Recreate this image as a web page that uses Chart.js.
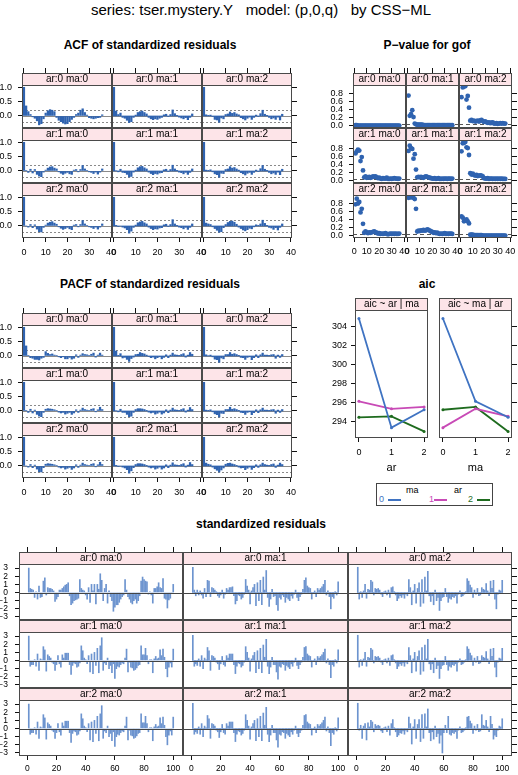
<!DOCTYPE html>
<html>
<head>
<meta charset="utf-8">
<script src="https://cdn.jsdelivr.net/npm/chart.js@4.4.1/dist/chart.umd.min.js"></script>
<style>
  html, body { margin: 0; padding: 0; background: #fff; }
  #page { position: relative; width: 518px; height: 775px; overflow: hidden; font-family: "Liberation Sans", Arial, sans-serif; }
  #page canvas { position: absolute; }
  .ttl { position: absolute; white-space: nowrap; transform: translateX(-50%); color: #000; }
  .sect { font-weight: bold; font-size: 12px; line-height: 14px; }
  .key { position: absolute; left: 376px; top: 483px; width: 115px; height: 21px; border: 1px solid #444; font-size: 9px; }
  .key span { position: absolute; line-height: 10px; }
  .key i { position: absolute; height: 0; border-top: 2px solid; }
</style>
</head>
<body>
<div id="page">
  <div class="ttl" style="left:261px; top:1px; font-size:15px; line-height:17px;">series: tser.mystery.Y&nbsp;&nbsp;&nbsp;model: (p,0,q)&nbsp;&nbsp;&nbsp;by CSS−ML</div>
  <div class="ttl sect" style="left:150px; top:38px;">ACF of standardized residuals</div>
  <div class="ttl sect" style="left:427px; top:38px;">P−value for gof</div>
  <div class="ttl sect" style="left:150px; top:277px;">PACF of standardized residuals</div>
  <div class="ttl sect" style="left:427px; top:277px;">aic</div>
  <div class="ttl sect" style="left:261px; top:517px;">standardized residuals</div>
  <div class="key">
    <span style="left:29px; top:1px;">ma</span>
    <span style="left:77px; top:1px;">ar</span>
    <span style="left:2px; top:10px; color:#3f73c2;">0</span><i style="left:11px; top:15px; width:13px; border-color:#3f73c2;"></i>
    <span style="left:52px; top:10px; color:#c84ab6;">1</span><i style="left:57px; top:15px; width:13px; border-color:#c84ab6;"></i>
    <span style="left:91px; top:10px; color:#1e6b1e;">2</span><i style="left:100px; top:15px; width:13px; border-color:#1e6b1e;"></i>
  </div>
</div>
<script>
// ---------- data ----------
const levels = [0, 1, 2];

const acfXTicks = [0, 10, 20, 30, 40];
const acfYTicks = [0, 0.5, 1];
const ciBound = 0.196;

const acf_ar0ma0 = [1, 0.35, 0.15, 0.05, -0.03, -0.08, -0.17, -0.31, -0.27, -0.10, 0.10, 0.18, 0.22, 0.20, 0.15, -0.05, -0.15, -0.20, -0.25, -0.28, -0.27, -0.20, -0.12, -0.05, 0.05, 0.10, 0.20, 0.25, 0.12, 0.03, -0.06, -0.08, -0.10, -0.08, -0.06, -0.05, 0.04];
const acf_ar0ma1 = [1, 0.17, 0.05, 0.10, -0.05, -0.08, -0.15, -0.23, -0.20, -0.05, 0.03, 0.12, 0.15, 0.17, 0.12, 0.07, -0.05, -0.10, -0.13, -0.10, -0.12, -0.08, -0.05, 0.04, 0.06, -0.02, 0.05, 0.21, 0.08, 0.02, -0.04, -0.07, -0.10, -0.06, -0.13, -0.05, 0.07];
const acf_ar0ma2 = [1, 0.04, 0.02, 0.03, -0.02, -0.12, -0.14, -0.22, -0.07, -0.10, 0.05, 0.07, 0.14, 0.09, 0.12, 0.07, 0.04, -0.06, -0.10, -0.14, -0.08, -0.04, -0.12, -0.05, 0.03, -0.02, 0.08, 0.20, 0.06, 0.02, -0.05, -0.10, -0.07, -0.12, -0.04, -0.14, 0.06];
const acf_ar1ma0 = [1, 0.02, -0.05, 0.06, -0.07, 0.05, -0.12, -0.18, -0.20, -0.04, 0.03, 0.10, 0.14, 0.15, 0.10, 0.07, -0.03, -0.08, -0.12, -0.08, -0.05, -0.10, -0.12, 0.03, 0.05, -0.03, 0.05, 0.19, 0.07, 0.02, -0.03, -0.05, -0.09, -0.04, -0.11, -0.04, 0.07];
const acf_ar1ma1 = [1, 0.01, -0.03, 0.06, -0.05, -0.06, -0.12, -0.21, -0.19, -0.04, 0.03, 0.11, 0.15, 0.16, 0.11, 0.07, -0.04, -0.09, -0.13, -0.09, -0.11, -0.07, -0.06, 0.04, 0.06, -0.02, 0.05, 0.20, 0.07, 0.02, -0.04, -0.06, -0.10, -0.05, -0.12, -0.05, 0.07];
const acf_ar1ma2 = [1, 0.03, 0.02, 0.04, -0.03, -0.10, -0.13, -0.22, -0.08, -0.09, 0.05, 0.07, 0.15, 0.10, 0.12, 0.07, 0.03, -0.06, -0.10, -0.14, -0.08, -0.05, -0.12, -0.05, 0.03, -0.02, 0.08, 0.19, 0.06, 0.02, -0.05, -0.10, -0.07, -0.12, -0.04, -0.13, 0.06];
const acf_ar2ma0 = [1, 0.00, -0.04, 0.05, -0.06, 0.04, -0.11, -0.20, -0.21, -0.05, 0.03, 0.10, 0.13, 0.15, 0.10, 0.06, -0.03, -0.08, -0.12, -0.09, -0.05, -0.10, -0.13, 0.03, 0.05, -0.03, 0.05, 0.19, 0.07, 0.02, -0.03, -0.05, -0.09, -0.04, -0.11, -0.04, 0.07];
const acf_ar2ma1 = [1, 0.02, -0.02, 0.00, -0.04, -0.07, -0.13, -0.25, -0.18, -0.05, 0.03, 0.11, 0.14, 0.16, 0.11, 0.07, -0.04, -0.09, -0.13, -0.10, -0.11, -0.07, -0.06, 0.04, 0.06, -0.02, 0.05, 0.22, 0.07, 0.02, -0.04, -0.06, -0.10, -0.05, -0.12, -0.05, 0.07];
const acf_ar2ma2 = [1, 0.10, 0.07, 0.05, -0.03, -0.09, -0.15, -0.22, -0.20, -0.06, 0.05, 0.12, 0.16, 0.17, 0.13, 0.06, -0.04, -0.09, -0.14, -0.17, -0.13, -0.08, -0.10, -0.03, 0.04, 0.02, 0.07, 0.20, 0.09, 0.02, -0.05, -0.07, -0.12, -0.06, -0.14, -0.05, 0.07];

const pacf_ar0ma0 = [1, 0.35, 0.02, -0.06, -0.08, -0.12, -0.12, -0.14, -0.08, -0.05, 0.15, 0.09, 0.05, 0.07, 0.03, 0.02, -0.03, -0.06, -0.03, -0.10, -0.10, -0.05, -0.11, -0.08, 0.04, -0.05, 0.03, 0.08, 0.05, 0.04, 0.02, 0.06, 0.10, -0.04, 0.03, 0.10, 0.03];
const pacf_ar0ma1 = [1, 0.17, 0.02, 0.08, -0.07, -0.05, -0.12, -0.19, -0.09, -0.04, 0.05, 0.06, 0.12, 0.09, 0.07, 0.03, -0.02, -0.06, -0.04, -0.10, -0.06, -0.03, -0.10, -0.05, 0.04, -0.06, 0.03, 0.10, 0.04, 0.03, 0.02, 0.05, 0.08, -0.04, 0.03, 0.12, 0.06];
const pacf_ar0ma2 = [1, 0.04, 0.01, 0.03, -0.03, -0.11, -0.13, -0.22, -0.07, -0.10, 0.05, 0.05, 0.12, 0.06, 0.08, 0.05, 0.02, -0.05, -0.06, -0.12, -0.05, -0.03, -0.13, -0.06, 0.04, -0.06, 0.04, 0.10, 0.03, 0.03, 0.02, 0.04, 0.05, -0.08, 0.03, -0.05, 0.05];
const pacf_ar1ma0 = [1, 0.02, -0.05, 0.06, -0.07, 0.03, -0.12, -0.18, -0.20, -0.05, 0.06, 0.08, 0.07, 0.06, 0.04, 0.02, -0.04, -0.07, -0.05, -0.11, -0.08, -0.05, -0.12, -0.07, 0.04, -0.05, 0.03, 0.10, 0.05, 0.03, 0.02, 0.06, 0.08, -0.03, 0.04, 0.13, 0.05];
const pacf_ar1ma1 = [1, 0.01, -0.03, 0.06, -0.05, -0.05, -0.12, -0.20, -0.18, -0.05, 0.05, 0.08, 0.08, 0.07, 0.05, 0.02, -0.04, -0.07, -0.05, -0.11, -0.08, -0.04, -0.11, -0.07, 0.04, -0.06, 0.03, 0.10, 0.04, 0.03, 0.02, 0.05, 0.08, -0.04, 0.03, 0.12, 0.05];
const pacf_ar1ma2 = [1, 0.03, 0.02, 0.04, -0.03, -0.10, -0.13, -0.21, -0.08, -0.09, 0.05, 0.05, 0.13, 0.06, 0.08, 0.05, 0.02, -0.05, -0.06, -0.12, -0.05, -0.03, -0.13, -0.06, 0.04, -0.06, 0.04, 0.10, 0.03, 0.03, 0.02, 0.04, 0.05, -0.08, 0.03, -0.05, 0.05];
const pacf_ar2ma0 = [1, 0.00, -0.04, 0.05, -0.06, 0.03, -0.11, -0.20, -0.21, -0.06, 0.06, 0.08, 0.07, 0.06, 0.04, 0.02, -0.04, -0.07, -0.05, -0.11, -0.08, -0.05, -0.12, -0.07, 0.04, -0.05, 0.03, 0.10, 0.05, 0.03, 0.02, 0.06, 0.08, -0.03, 0.04, 0.13, 0.05];
const pacf_ar2ma1 = [1, 0.02, -0.02, 0.00, -0.04, -0.07, -0.13, -0.25, -0.17, -0.06, 0.05, 0.08, 0.08, 0.07, 0.05, 0.02, -0.04, -0.07, -0.05, -0.11, -0.08, -0.04, -0.11, -0.07, 0.04, -0.06, 0.03, 0.11, 0.04, 0.03, 0.02, 0.05, 0.08, -0.04, 0.03, 0.12, 0.05];
const pacf_ar2ma2 = [1, 0.10, 0.06, 0.04, -0.04, -0.10, -0.15, -0.21, -0.14, -0.07, 0.06, 0.09, 0.10, 0.07, 0.05, 0.02, -0.04, -0.07, -0.06, -0.13, -0.08, -0.04, -0.12, -0.06, 0.04, -0.05, 0.04, 0.10, 0.05, 0.03, 0.02, 0.05, 0.07, -0.05, 0.03, 0.10, 0.05];

const pvXTicks = [0, 10, 20, 30, 40];
const pvYTicks = [0, 0.2, 0.4, 0.6, 0.8];
const pvLevel = 0.05;
const pv_ar0ma0 = [0.01, 0.01, 0.00, 0.00, 0.00, 0.00, 0.00, 0.00, 0.00, 0.00, 0.00, 0.00, 0.00, 0.00, 0.00, 0.00, 0.00, 0.00, 0.00, 0.00, 0.00, 0.00, 0.00, 0.00, 0.00, 0.00, 0.00, 0.00, 0.00, 0.00, 0.00, 0.00, 0.00, 0.00, 0.00, 0.00];
const pv_ar0ma1 = [0.74, 0.24, 0.28, 0.38, 0.21, 0.05, 0.03, 0.02, 0.02, 0.02, 0.02, 0.02, 0.01, 0.01, 0.01, 0.01, 0.01, 0.01, 0.01, 0.01, 0.01, 0.01, 0.01, 0.01, 0.01, 0.01, 0.01, 0.01, 0.01, 0.01, 0.01, 0.01, 0.01, 0.01, 0.01, 0.01];
const pv_ar0ma2 = [0.70, 0.94, 0.96, 0.97, 0.64, 0.73, 0.44, 0.12, 0.14, 0.11, 0.12, 0.10, 0.11, 0.12, 0.10, 0.13, 0.14, 0.11, 0.09, 0.10, 0.08, 0.07, 0.08, 0.06, 0.07, 0.08, 0.05, 0.05, 0.06, 0.04, 0.05, 0.06, 0.05, 0.06, 0.05, 0.05];
const pv_ar1ma0 = [0.67, 0.72, 0.76, 0.74, 0.48, 0.58, 0.25, 0.08, 0.10, 0.07, 0.08, 0.09, 0.07, 0.08, 0.10, 0.09, 0.10, 0.08, 0.06, 0.07, 0.05, 0.04, 0.06, 0.05, 0.05, 0.07, 0.04, 0.04, 0.05, 0.04, 0.05, 0.06, 0.05, 0.05, 0.04, 0.05];
const pv_ar1ma1 = [0.73, 0.86, 0.80, 0.78, 0.54, 0.65, 0.27, 0.08, 0.09, 0.08, 0.09, 0.08, 0.07, 0.09, 0.10, 0.09, 0.08, 0.07, 0.06, 0.05, 0.05, 0.06, 0.04, 0.05, 0.06, 0.04, 0.04, 0.05, 0.04, 0.05, 0.05, 0.04, 0.05, 0.05, 0.04, 0.05];
const pv_ar1ma2 = [0.72, 0.92, 0.93, 0.95, 0.82, 0.80, 0.63, 0.18, 0.15, 0.17, 0.14, 0.12, 0.14, 0.11, 0.12, 0.13, 0.12, 0.10, 0.06, 0.05, 0.05, 0.06, 0.04, 0.05, 0.05, 0.04, 0.05, 0.04, 0.05, 0.04, 0.05, 0.04, 0.05, 0.04, 0.04, 0.04];
const pv_ar2ma0 = [0.77, 0.91, 0.79, 0.83, 0.57, 0.66, 0.29, 0.07, 0.10, 0.08, 0.06, 0.08, 0.07, 0.08, 0.09, 0.10, 0.08, 0.07, 0.05, 0.06, 0.04, 0.05, 0.04, 0.05, 0.06, 0.04, 0.03, 0.04, 0.05, 0.04, 0.05, 0.04, 0.05, 0.04, 0.04, 0.05];
const pv_ar2ma1 = [0.93, 0.95, 0.94, 0.96, 0.93, 0.90, 0.66, 0.10, 0.12, 0.11, 0.13, 0.12, 0.14, 0.12, 0.13, 0.15, 0.14, 0.12, 0.10, 0.09, 0.07, 0.08, 0.06, 0.07, 0.05, 0.04, 0.05, 0.04, 0.05, 0.06, 0.04, 0.05, 0.04, 0.05, 0.05, 0.04];
const pv_ar2ma2 = [0.47, 0.44, 0.35, 0.37, 0.40, 0.35, 0.30, 0.02, 0.02, 0.02, 0.01, 0.01, 0.01, 0.01, 0.01, 0.01, 0.01, 0.00, 0.00, 0.00, 0.00, 0.00, 0.00, 0.00, 0.00, 0.00, 0.00, 0.00, 0.00, 0.00, 0.00, 0.00, 0.00, 0.00, 0.00, 0.00];

// aic by (ar) for each ma group
const aicXTicks = [0, 1, 2];
const aicYTicks = [294, 296, 298, 300, 302, 304];
const aic_ma0 = [304.9, 293.3, 295.2];
const aic_ma1 = [296.1, 295.3, 295.5];
const aic_ma2 = [294.4, 294.5, 292.9];

const resXTicks = [0, 20, 40, 60, 80, 100];
const resYTicks = [-3, -2, -1, 0, 1, 2, 3];
const res_ar0ma0 = [
  3.0, 0.5, 0.4, 0.3, -0.6, 0.1, -0.8, 0.8, -0.6, -0.5,
  1.4, 1.8, -0.3, 0.6, 0.5, 0.5, 0.4, 0.2, -1.1, -0.8,
  -0.5, 0.3, 0.3, 0.5, 0.7, 0.9, 1.0, 1.2, -0.4, -1.5,
  -1.3, -1.0, -0.9, -0.8, -0.7, 1.6, 0.5, 0.3, 0.2, -0.3,
  -0.8, 0.6, -1.2, 1.0, 0.2, 1.0, -1.4, 1.0, 0.4, 2.3,
  1.5, -1.0, 0.5, 1.0, -1.3, 0.2, -0.5, -1.0, -2.3, -1.8,
  -1.5, -1.5, -1.2, -0.8, -0.5, -0.3, 1.6, 0.3, -0.5, -0.8,
  -1.2, -1.4, -1.0, -0.8, -1.3, -1.0, -0.4, 1.4, 1.9, 1.6,
  1.4, 1.3, -0.2, 0.1, -0.3, -1.3, 0.5, 0.5, 0.7, 1.2,
  0.6, 0.5, 1.7, -0.7, -0.8, -1.9, -0.9, -0.7, -0.1, 1.0];
const res_ar1ma0 = [
  3.0, -0.7, -0.5, -0.5, 0.1, -0.7, 0.8, -1.2, 0.2, 0.1,
  1.7, 1.3, -1.3, 0.7, 0.5, 0.3, -0.2, -0.4, -1.2, -0.5,
  0.6, -0.4, -0.8, 0.7, 0.3, 0.9, 0.9, 0.9, -0.5, -1.7,
  -0.6, -0.3, -0.4, -0.8, -0.7, -0.3, 1.8, 1.2, 0.3, 0.1,
  -0.4, 0.6, -1.4, 0.8, -1.6, 1.0, -0.6, 1.5, -1.5, 1.8,
  2.8, -1.2, -0.3, -0.5, 0.3, -1.0, -0.6, -1.5, -0.4, -2.2,
  -1.0, -0.7, -0.8, -0.5, -0.3, -0.4, 0.3, 1.4, -1.4, -0.2,
  -0.8, -0.9, -1.2, -1.1, -0.9, -0.6, -0.5, 1.8, 0.7, 0.7,
  1.5, 0.6, -0.4, 0.1, 0.1, -1.5, 0.2, 0.5, 0.2, 0.3,
  1.3, 0.6, 1.4, 0.4, -1.0, -2.0, -0.8, -0.3, -0.8, 1.4];
const res_ar2ma0 = res_ar1ma0;
const res_ar0ma1 = [
  3.1, 0.3, -0.4, 0.3, -0.3, 0.2, -0.3, -0.7, 0.5, -0.5,
  1.5, 1.4, -0.5, 0.6, 0.5, 0.3, 0.1, -0.4, -0.6, -0.3,
  0.3, -0.7, -0.2, 0.5, 0.3, 0.6, 0.6, 0.7, -0.4, -1.4,
  -1.0, -0.3, -0.4, -0.8, -0.6, -0.2, 1.6, 0.8, 0.3, -1.4,
  0.2, 0.6, 1.0, -1.6, 1.2, -1.0, 1.5, -1.5, 1.9, 0.3,
  2.7, -0.6, -1.7, -0.8, 0.4, -0.5, -0.4, -1.5, -2.2, -0.6,
  -0.8, -0.3, -0.5, -1.2, -0.6, -0.8, -1.0, -0.4, -0.7, -0.2,
  0.3, -0.6, -1.0, -0.5, -0.2, 0.4, 1.5, 1.8, 0.8, 0.6,
  0.5, -0.8, -0.1, 0.2, -0.5, 0.5, 0.3, 0.5, 0.7, 1.0,
  1.5, -0.3, 0.2, -0.5, -2.0, -0.5, -0.7, 0.1, -0.3, 1.3];
const res_ar1ma1 = [
  3.1, -0.7, -0.4, -0.6, 0.2, -0.7, 0.6, -1.0, 0.3, 0.1,
  1.6, 1.2, -1.2, 0.6, 0.5, 0.3, -0.2, -0.4, -1.1, -0.4,
  0.5, -0.5, -0.7, 0.6, 0.3, 0.8, 0.8, 0.8, -0.5, -1.6,
  -0.7, -0.3, -0.4, -0.8, -0.6, -0.2, 1.7, 1.0, 0.3, -1.3,
  0.2, 0.6, 1.0, -1.5, 1.2, -1.0, 1.5, -1.5, 1.9, 0.4,
  2.6, -0.7, -1.6, -0.8, 0.4, -0.5, -0.5, -1.4, -2.3, -0.7,
  -0.8, -0.4, -0.5, -1.2, -0.6, -0.8, -1.0, -0.4, -0.7, -0.2,
  0.3, -0.6, -1.0, -0.5, -0.2, 0.4, 1.6, 1.7, 0.8, 0.6,
  0.5, -0.8, -0.1, 0.2, -0.5, 0.5, 0.3, 0.5, 0.7, 1.0,
  1.4, -0.3, 0.2, -0.5, -2.1, -0.5, -0.7, 0.1, -0.3, 1.3];
const res_ar2ma1 = res_ar1ma1;
const res_ar0ma2 = [
  3.1, -0.8, 0.1, -0.6, 0.2, 1.0, -0.7, 0.4, 0.3, 1.5,
  1.3, -0.3, 0.5, 0.4, 0.5, 0.3, -0.2, -0.5, 0.1, 0.2,
  -0.3, 0.3, -0.6, 0.6, 0.7, 0.1, -0.3, -1.0, -0.7, -0.4,
  -0.6, -0.3, -0.7, -0.2, -0.4, 1.6, 0.6, -1.5, 0.2, 1.0,
  -1.3, 0.5, 1.2, -1.7, 1.6, -1.3, 1.9, 0.2, 2.6, -0.4,
  -1.1, -0.4, -1.5, 0.3, -1.0, -0.6, -2.2, -1.0, -0.6, -0.5,
  0.5, -0.5, -1.2, -0.7, -0.8, -0.5, -0.6, -0.4, -1.3, -0.2,
  0.2, -0.5, -0.4, -0.2, 0.1, 1.7, 1.4, 0.9, 0.6, -0.6,
  0.3, -0.2, 0.5, -0.4, -0.3, 0.6, 0.4, 0.3, 1.1, 0.2,
  -0.4, 1.4, 0.5, 1.5, -0.8, -2.0, -0.2, 0.3, 0.2, 1.5];
const res_ar1ma2 = res_ar0ma2;
const res_ar2ma2 = [
  3.1, -0.2, 0.4, -1.2, 0.3, 0.6, -1.4, 0.7, 0.2, 1.0,
  0.8, -0.4, 0.5, 0.3, 0.4, 0.3, -0.3, -0.5, 0.1, 0.2,
  -0.4, 0.3, -0.8, 0.6, 1.1, 0.1, -0.4, -1.0, -0.8, -0.5,
  -0.6, -0.3, -0.7, -0.2, -0.4, 1.4, 0.6, -1.9, 0.2, 1.1,
  -1.2, 0.5, 1.1, -1.6, 1.7, -1.2, 1.8, 0.2, 2.4, -0.5,
  -1.5, -0.4, -1.3, 0.3, -1.0, -0.6, -1.8, -0.8, -3.0, -0.5,
  0.4, -0.5, 1.5, -0.7, -0.8, -0.5, -0.6, -0.4, -1.2, -0.2,
  0.2, -0.5, -0.4, -0.2, 0.1, 1.4, 1.5, 0.9, 0.6, -0.6,
  0.3, -0.2, 0.5, -0.4, -0.3, 1.7, 0.4, 0.3, 1.0, 0.2,
  -0.4, 1.5, 0.5, -1.3, -0.8, -1.0, -0.2, 0.3, 0.2, 1.2];

const acfByModel = [[acf_ar0ma0, acf_ar0ma1, acf_ar0ma2], [acf_ar1ma0, acf_ar1ma1, acf_ar1ma2], [acf_ar2ma0, acf_ar2ma1, acf_ar2ma2]];
const pacfByModel = [[pacf_ar0ma0, pacf_ar0ma1, pacf_ar0ma2], [pacf_ar1ma0, pacf_ar1ma1, pacf_ar1ma2], [pacf_ar2ma0, pacf_ar2ma1, pacf_ar2ma2]];
const pvByModel = [[pv_ar0ma0, pv_ar0ma1, pv_ar0ma2], [pv_ar1ma0, pv_ar1ma1, pv_ar1ma2], [pv_ar2ma0, pv_ar2ma1, pv_ar2ma2]];
const resByModel = [[res_ar0ma0, res_ar0ma1, res_ar0ma2], [res_ar1ma0, res_ar1ma1, res_ar1ma2], [res_ar2ma0, res_ar2ma1, res_ar2ma2]];
const aicByMa = [aic_ma0, aic_ma1, aic_ma2];

// ---------- drawing ----------
const FONT = '"Liberation Sans", Arial, Helvetica, sans-serif';
const COL_BAR = '#2f63b0';
const COL_RESID = '#6d94cf';
const COL_STRIP = '#fde4e8';
const COL_FRAME = '#4a4a4a';
const COL_AXIS = '#111';
const AIC_COLS = ['#3f73c2', '#c84ab6', '#1e6b1e'];

Chart.defaults.font.family = FONT;
const page = document.getElementById('page');

function fmt1(v) { return v.toFixed(1); }
function fmtInt(v) { return v < 0 ? '\u2212' + Math.abs(v) : String(v); }

function refLine(ctx, a, yScale, r) {
  const py = Math.round(yScale.getPixelForValue(r.y)) + 0.5;
  ctx.beginPath();
  ctx.setLineDash(r.dash || []);
  ctx.strokeStyle = r.color;
  ctx.lineWidth = 1;
  ctx.moveTo(a.left, py);
  ctx.lineTo(a.right, py);
  ctx.stroke();
  ctx.setLineDash([]);
}

// strip, frame and reference lines of one panel
function makeLatticePlugin(p) {
  const refs = p.refLines || [];
  return {
    id: 'lattice',
    beforeDatasetsDraw(chart) {
      const { ctx, chartArea: a, scales } = chart;
      ctx.save();
      refs.filter(r => !r.over).forEach(r => refLine(ctx, a, scales.y, r));
      ctx.restore();
    },
    afterDatasetsDraw(chart) {
      const { ctx, chartArea: a, scales } = chart;
      ctx.save();
      refs.filter(r => r.over).forEach(r => refLine(ctx, a, scales.y, r));

      const sTop = a.top - p.stripH;
      ctx.fillStyle = COL_STRIP;
      ctx.fillRect(a.left, sTop, a.right - a.left, p.stripH);
      ctx.fillStyle = '#000';
      ctx.font = '10px ' + FONT;
      ctx.textAlign = 'center';
      ctx.textBaseline = 'middle';
      ctx.fillText(p.label, (a.left + a.right) / 2, sTop + p.stripH / 2 + 0.5);

      ctx.strokeStyle = COL_FRAME;
      ctx.lineWidth = 1;
      ctx.strokeRect(a.left + 0.5, sTop + 0.5, a.right - a.left - 1, a.bottom - sTop - 1);
      ctx.beginPath();
      ctx.moveTo(a.left, a.top + 0.5);
      ctx.lineTo(a.right, a.top + 0.5);
      ctx.stroke();
      ctx.restore();
    }
  };
}

function zeroPad(s) { s.paddingLeft = 0; s.paddingRight = 0; s.paddingTop = 0; s.paddingBottom = 0; }

function latticePanel(p) {
  const M = 8;
  const leftW = p.showLeft ? p.yAxisW : 0;
  const rightW = p.showRight ? 6 : 0;
  const topW = p.showTop ? 6 : 0;
  const bottomW = p.showBottom ? p.xAxisH : 0;
  const cw = M + leftW + p.w + rightW + M;
  const chh = M + topW + p.stripH + p.h + bottomW + M;

  const canvas = document.createElement('canvas');
  canvas.width = cw;
  canvas.height = chh;
  canvas.style.left = (p.x - leftW - M) + 'px';
  canvas.style.top = (p.stripTop - topW - M) + 'px';
  canvas.style.width = cw + 'px';
  canvas.style.height = chh + 'px';
  page.appendChild(canvas);

  const tickFont = { family: FONT, size: p.tickSize || 9 };
  const grid = len => ({ display: true, drawOnChartArea: false, drawTicks: true, tickLength: len, lineWidth: 1, color: COL_AXIS, tickColor: COL_AXIS, offset: false });
  const xTicksFn = s => { s.ticks = p.xTicks.map(v => ({ value: v })); };
  const yTicksFn = s => { s.ticks = p.yTicks.map(v => ({ value: v })); };

  const scales = {
    x: {
      type: 'linear', min: p.xMin, max: p.xMax, offset: false,
      display: p.showBottom,
      afterBuildTicks: xTicksFn,
      afterFit: s => { if (p.showBottom) { s.height = p.xAxisH; zeroPad(s); } },
      grid: grid(4),
      border: { display: false },
      ticks: { autoSkip: false, maxRotation: 0, padding: p.xPad, color: '#000', font: tickFont, callback: p.xFmt || (v => String(v)) },
      title: p.xTitle
        ? { display: true, text: p.xTitle, color: '#000', font: { family: FONT, size: 11 }, padding: { top: 0, bottom: 0 } }
        : { display: false }
    },
    y: {
      type: 'linear', min: p.yMin, max: p.yMax,
      display: p.showLeft,
      afterBuildTicks: yTicksFn,
      afterFit: s => { if (p.showLeft) { s.width = p.yAxisW; zeroPad(s); } },
      grid: grid(4),
      border: { display: false },
      ticks: { autoSkip: false, padding: p.yPad, color: '#000', font: tickFont, callback: p.yFmt || (v => String(v)) }
    }
  };
  // top axis: tick marks only, reaching through the strip; the strip is painted over them
  if (p.showTop) {
    scales.xTop = {
      type: 'linear', position: 'top', min: p.xMin, max: p.xMax, offset: false,
      afterBuildTicks: xTicksFn,
      afterFit: s => { s.height = p.stripH + topW; zeroPad(s); },
      grid: grid(p.stripH + 5),
      border: { display: false },
      ticks: { display: false }
    };
  }
  // right axis: tick marks only
  if (p.showRight) {
    scales.yRight = {
      type: 'linear', position: 'right', min: p.yMin, max: p.yMax,
      afterBuildTicks: yTicksFn,
      afterFit: s => { s.width = rightW; zeroPad(s); },
      grid: grid(5),
      border: { display: false },
      ticks: { display: false }
    };
  }

  new Chart(canvas.getContext('2d'), {
    type: p.type,
    data: { datasets: p.datasets },
    options: {
      responsive: false,
      animation: false,
      devicePixelRatio: 1,
      layout: { autoPadding: false, padding: { left: M, right: M, top: M + (p.showTop ? 0 : p.stripH), bottom: M } },
      plugins: { legend: { display: false }, tooltip: { enabled: false } },
      scales
    },
    plugins: [makeLatticePlugin(p)]
  });
}

// ---------- ACF and PACF grids ----------
const corrCols = [22, 112, 202];
function correlogram(stripTops, byModel) {
  levels.forEach(ar => levels.forEach(ma => {
    const vals = byModel[ar][ma];
    latticePanel({
      type: 'bar', label: `ar:${ar} ma:${ma}`,
      x: corrCols[ma], w: 90, stripTop: stripTops[ar], stripH: 12, h: 43,
      showLeft: ma === 0, showBottom: ar === 2, showTop: ar === 0, showRight: ma === 2,
      yAxisW: 22, xAxisH: 20, xPad: 5, yPad: 6,
      xMin: -0.9, xMax: 40.5, yMin: -0.42, yMax: 1.08,
      xTicks: acfXTicks, yTicks: acfYTicks, yFmt: fmt1,
      refLines: [
        { y: 0, color: '#8a8a8a' },
        { y: ciBound, color: '#8a8a8a', dash: [2, 2] },
        { y: -ciBound, color: '#8a8a8a', dash: [2, 2] }
      ],
      datasets: [{
        data: vals.map((v, lag) => ({ x: lag, y: v })),
        backgroundColor: COL_BAR, borderWidth: 0, barThickness: 1.6
      }]
    });
  }));
}
correlogram([73, 128, 183], acfByModel);
correlogram([313, 368, 423], pacfByModel);

// ---------- P-value grid ----------
const pvCols = [353, 406, 459];
levels.forEach(ar => levels.forEach(ma => {
  const vals = pvByModel[ar][ma];
  latticePanel({
    type: 'scatter', label: `ar:${ar} ma:${ma}`,
    x: pvCols[ma], w: 53, stripTop: [73, 128, 183][ar], stripH: 12, h: 43,
    showLeft: ma === 0, showBottom: ar === 2, showTop: ar === 0, showRight: ma === 2,
    yAxisW: 23, xAxisH: 20, xPad: 4, yPad: 6,
    xMin: -1, xMax: 41.4, yMin: -0.06, yMax: 1.0,
    xTicks: pvXTicks, yTicks: pvYTicks, yFmt: fmt1,
    refLines: [{ y: pvLevel, color: '#555', dash: [4, 3] }],
    datasets: [{
      data: vals.map((v, i) => ({ x: i + 1, y: v })),
      pointRadius: 2.4, pointBackgroundColor: COL_BAR, pointBorderWidth: 0, showLine: false
    }]
  });
}));

// ---------- aic panels ----------
const aicPanels = [
  { label: 'aic ~ ar | ma', x: 355, xTitle: 'ar', series: aicByMa },
  { label: 'aic ~ ma | ar', x: 439, xTitle: 'ma',
    series: levels.map(ar => levels.map(ma => aicByMa[ma][ar])) }
];
aicPanels.forEach((panel, k) => {
  latticePanel({
    type: 'line', label: panel.label,
    x: panel.x, w: 73, stripTop: 298, stripH: 12, h: 128,
    showLeft: k === 0, showBottom: true, showTop: false, showRight: k === 1,
    yAxisW: 25, xAxisH: 37, xPad: 5, yPad: 4, xTitle: panel.xTitle,
    xMin: -0.12, xMax: 2.12, yMin: 292.2, yMax: 305.8,
    xTicks: aicXTicks, yTicks: aicYTicks,
    datasets: panel.series.map((vals, g) => ({
      data: vals.map((v, i) => ({ x: aicXTicks[i], y: v })),
      borderColor: AIC_COLS[g], backgroundColor: AIC_COLS[g],
      borderWidth: 1.8, pointRadius: 1.5, pointBorderWidth: 0, tension: 0
    }))
  });
});

// ---------- standardized residuals ----------
const resCols = [19, 183, 348];
const resWidths = [164, 165, 164];
levels.forEach(ar => levels.forEach(ma => {
  const vals = resByModel[ar][ma];
  latticePanel({
    type: 'bar', label: `ar:${ar} ma:${ma}`,
    x: resCols[ma], w: resWidths[ma], stripTop: [552, 620, 688][ar], stripH: 12, h: 56,
    showLeft: ma === 0, showBottom: ar === 2, showTop: ar === 0, showRight: ma === 2,
    yAxisW: 19, xAxisH: 20, xPad: 4, yPad: 7, tickSize: 8.5,
    xMin: -5.7, xMax: 106.7, yMin: -3.37, yMax: 3.5,
    xTicks: resXTicks, yTicks: resYTicks, yFmt: fmtInt,
    refLines: [{ y: 0, color: '#444', over: true }],
    datasets: [{
      data: vals.map((v, i) => ({ x: i + 1, y: v })),
      backgroundColor: COL_RESID, borderWidth: 0, barThickness: 1
    }]
  });
}));
</script>
</body>
</html>
